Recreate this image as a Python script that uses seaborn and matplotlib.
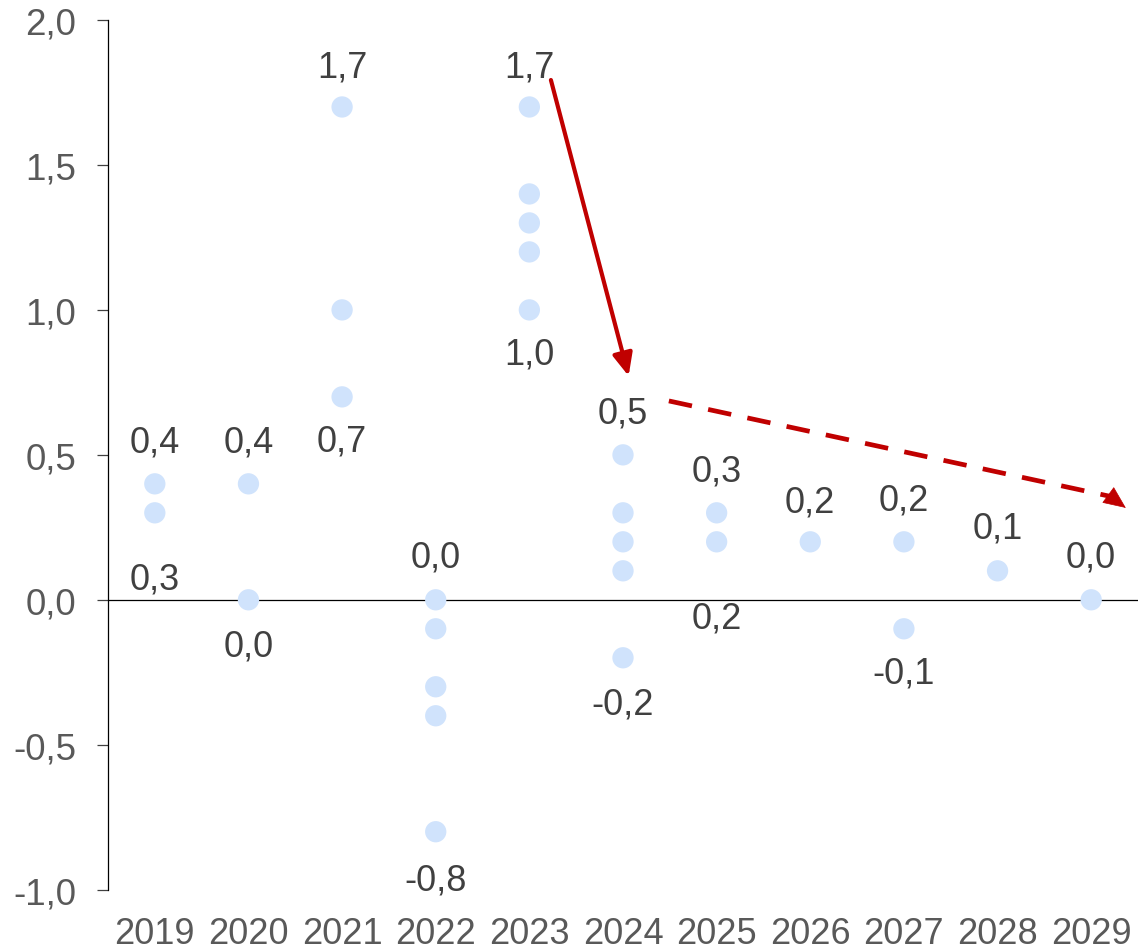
import matplotlib
matplotlib.use("Agg")
import matplotlib.pyplot as plt
import seaborn as sns
import pandas as pd

# ---- data ----
years = ["2019", "2020", "2021", "2022", "2023", "2024", "2025", "2026", "2027", "2028", "2029"]
values = [
    [0.4, 0.3],
    [0.4, 0.0],
    [1.7, 1.0, 0.7],
    [0.0, -0.1, -0.3, -0.4, -0.8],
    [1.7, 1.4, 1.3, 1.2, 1.0],
    [0.5, 0.3, 0.2, 0.1, -0.2],
    [0.3, 0.2],
    [0.2],
    [0.2, -0.1],
    [0.1],
    [0.0],
]
# label offsets (points) for max label above / min label below
top_offsets = [-30, -30, -29, -31, -29, -30, -30, -29, -30, -31, -31]
bottom_offsets = [47.5, 33, 32, 35, 32, 33, 55, None, 32, None, None]

y_ticks = [-1.0, -0.5, 0.0, 0.5, 1.0, 1.5, 2.0]

rows = [(y, v) for y, vs in zip(years, values) for v in vs]
df = pd.DataFrame(rows, columns=["year", "value"])

sns.set_theme(style="white")
plt.rcParams["font.family"] = ["Liberation Sans", "DejaVu Sans"]

fig = plt.figure(figsize=(11.38, 9.53), dpi=100)
ax = fig.add_axes([108 / 1138, 1 - 890.7 / 953, 1 - 108 / 1138, (890.7 - 21) / 953])

ax.axhline(0, color="black", lw=0.9, zorder=1)
sns.scatterplot(data=df, x="year", y="value", ax=ax, s=235, color="#D0E3FC",
                edgecolor="none", linewidth=0, zorder=3, legend=False)

def fmt(v):
    return f"{v:.1f}".replace(".", ",")

for i, (yr, vs) in enumerate(zip(years, values)):
    vmax, vmin = max(vs), min(vs)
    ax.annotate(fmt(vmax), xy=(i, vmax), xytext=(0, -top_offsets[i]), textcoords="offset points",
                ha="center", va="center", fontsize=26, color="#404040")
    if len(vs) > 1 and bottom_offsets[i] is not None:
        ax.annotate(fmt(vmin), xy=(i, vmin), xytext=(0, -bottom_offsets[i]), textcoords="offset points",
                    ha="center", va="center", fontsize=26, color="#404040")

# arrows
red = "#C00000"
ax.annotate("", xy=(5.06, 0.772), xytext=(4.23, 1.793),
            arrowprops=dict(arrowstyle="-|>,head_length=0.45,head_width=0.2", color=red, lw=3,
                            mutation_scale=30, shrinkA=0, shrinkB=0))
ax.plot([5.49, 10.2], [0.686, 0.357], color=red, lw=3.4, ls=(0, (5, 3.5)), solid_capstyle="butt", zorder=4)
ax.annotate("", xy=(10.37, 0.317), xytext=(10.18, 0.362),
            arrowprops=dict(arrowstyle="-|>,head_length=0.5,head_width=0.22", color=red, lw=0.5,
                            mutation_scale=30, shrinkA=0, shrinkB=0))

ax.set_xlim(-0.5, 10.5)
ax.set_ylim(-1.0, 2.0)
ax.set_yticks(y_ticks)
ax.set_yticklabels([fmt(t) for t in y_ticks])
ax.set_xlabel("")
ax.set_ylabel("")

for side in ["top", "right", "bottom"]:
    ax.spines[side].set_visible(False)
ax.spines["left"].set_color("black")
ax.spines["left"].set_linewidth(0.9)

ax.tick_params(axis="y", which="both", left=True, length=8, width=0.9, color="#404040",
               pad=15, labelsize=26.5, labelcolor="#595959", direction="out")
ax.tick_params(axis="x", length=0, pad=19, labelsize=26, labelcolor="#595959")

fig.savefig("out.png", dpi=100)
